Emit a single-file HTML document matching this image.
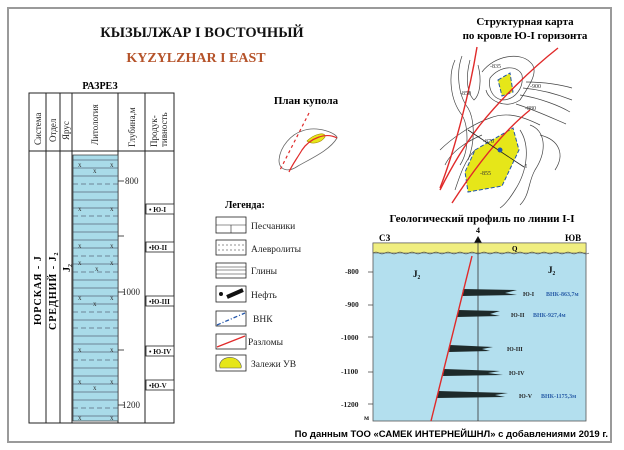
<!DOCTYPE html>
<html><head><meta charset="utf-8"><style>
body{margin:0;width:624px;height:450px;background:#fff;overflow:hidden}
svg{display:block;font-weight:bold}
text{font-family:"Liberation Serif",serif}
</style></head><body>
<svg width="624" height="450" viewBox="0 0 624 450">
<rect x="8" y="8" width="603" height="434" fill="#fff" stroke="#9a9a9a" stroke-width="2"/>
<text x="202" y="37" font-size="14.5" text-anchor="middle" fill="#111">КЫЗЫЛЖАР I  ВОСТОЧНЫЙ</text>
<text x="196" y="62" font-size="14" text-anchor="middle" fill="#b5532a">KYZYLZHAR I  EAST</text>
<text x="525" y="25" font-size="11" text-anchor="middle">Структурная карта</text>
<text x="525" y="39" font-size="11" text-anchor="middle">по кровле Ю-I горизонта</text>
<text x="100" y="89" font-size="10" text-anchor="middle">РАЗРЕЗ</text>
<!-- table -->
<g stroke="#222" stroke-width="1" fill="none">
<rect x="29" y="93" width="145" height="330"/>
<line x1="29" y1="151" x2="174" y2="151"/>
<line x1="46" y1="93" x2="46" y2="423"/><line x1="60" y1="93" x2="60" y2="423"/>
<line x1="72" y1="93" x2="72" y2="423"/><line x1="118" y1="93" x2="118" y2="423"/>
<line x1="145" y1="93" x2="145" y2="423"/>
</g>
<rect x="73" y="155" width="45" height="266" fill="#a9dbe9" stroke="#333" stroke-width="0.7"/>
<g stroke="#334" stroke-width="0.6">
<line x1="73" y1="160" x2="118" y2="160"/><line x1="73" y1="168" x2="118" y2="168"/><line x1="73" y1="176" x2="118" y2="176"/><line x1="73" y1="184" x2="118" y2="184" stroke-dasharray="5 3"/><line x1="73" y1="192" x2="118" y2="192"/><line x1="73" y1="200" x2="118" y2="200"/><line x1="73" y1="208" x2="118" y2="208"/><line x1="73" y1="216" x2="118" y2="216" stroke-dasharray="5 3"/><line x1="73" y1="224" x2="118" y2="224"/><line x1="73" y1="232" x2="118" y2="232"/><line x1="73" y1="240" x2="118" y2="240"/><line x1="73" y1="248" x2="118" y2="248"/><line x1="73" y1="256" x2="118" y2="256" stroke-dasharray="5 3"/><line x1="73" y1="264" x2="118" y2="264"/><line x1="73" y1="272" x2="118" y2="272" stroke-dasharray="5 3"/><line x1="73" y1="280" x2="118" y2="280"/><line x1="73" y1="288" x2="118" y2="288"/><line x1="73" y1="296" x2="118" y2="296"/><line x1="73" y1="304" x2="118" y2="304"/><line x1="73" y1="312" x2="118" y2="312" stroke-dasharray="5 3"/><line x1="73" y1="320" x2="118" y2="320"/><line x1="73" y1="328" x2="118" y2="328" stroke-dasharray="5 3"/><line x1="73" y1="336" x2="118" y2="336"/><line x1="73" y1="344" x2="118" y2="344"/><line x1="73" y1="352" x2="118" y2="352"/><line x1="73" y1="360" x2="118" y2="360" stroke-dasharray="5 3"/><line x1="73" y1="368" x2="118" y2="368"/><line x1="73" y1="376" x2="118" y2="376"/><line x1="73" y1="384" x2="118" y2="384"/><line x1="73" y1="392" x2="118" y2="392"/><line x1="73" y1="400" x2="118" y2="400"/><line x1="73" y1="408" x2="118" y2="408" stroke-dasharray="5 3"/><line x1="73" y1="416" x2="118" y2="416"/>
</g>
<g font-size="7" fill="#333" font-weight="normal">
<text x="78" y="167">x</text><text x="93" y="173">x</text><text x="110" y="167">x</text>
<text x="78" y="211">x</text><text x="110" y="211">x</text>
<text x="78" y="248">x</text><text x="110" y="248">x</text>
<text x="78" y="265">x</text><text x="95" y="271">x</text><text x="110" y="265">x</text>
<text x="78" y="300">x</text><text x="93" y="306">x</text><text x="110" y="300">x</text>
<text x="78" y="352">x</text><text x="110" y="352">x</text>
<text x="78" y="384">x</text><text x="93" y="390">x</text><text x="110" y="384">x</text>
<text x="78" y="420">x</text><text x="110" y="420">x</text>
</g>
<g stroke="#222" stroke-width="0.8"><line x1="118" y1="181" x2="124" y2="181"/><line x1="118" y1="236" x2="124" y2="236"/><line x1="118" y1="292" x2="124" y2="292"/><line x1="118" y1="350" x2="124" y2="350"/><line x1="118" y1="405" x2="124" y2="405"/></g>
<g font-size="9" font-weight="normal" fill="#222"><text x="125" y="184">800</text><text x="122" y="295">1000</text><text x="122" y="408">1200</text></g>
<g font-size="9" font-weight="normal" fill="#222">
<text transform="translate(41,145) rotate(-90)">Система</text>
<text transform="translate(56,142) rotate(-90)">Отдел</text>
<text transform="translate(69,140) rotate(-90)">Ярус</text>
<text transform="translate(98,145) rotate(-90)">Литология</text>
<text transform="translate(135,147) rotate(-90)">Глубина,м</text>
<text transform="translate(157,147) rotate(-90)">Продук-</text>
<text transform="translate(167,147) rotate(-90)">тивность</text>
</g>
<text transform="translate(41,325) rotate(-90)" font-size="10" letter-spacing="1">ЮРСКАЯ - J</text>
<text transform="translate(56,330) rotate(-90)" font-size="10" letter-spacing="1">СРЕДНИЙ - J₂</text>
<text transform="translate(70,272) rotate(-90)" font-size="10">J₂</text>
<g stroke="#222" stroke-width="0.8" fill="#fff">
<rect x="146" y="204" width="28" height="10"/><rect x="146" y="242" width="28" height="10"/><rect x="146" y="296" width="28" height="10"/><rect x="146" y="346" width="28" height="10"/><rect x="146" y="380" width="28" height="10"/>
</g>
<g font-size="7" fill="#111"><text x="149" y="212">• Ю-I</text><text x="149" y="250">•Ю-II</text><text x="149" y="304">•Ю-III</text><text x="149" y="354">• Ю-IV</text><text x="149" y="388">•Ю-V</text></g>
<!-- plan kupola -->
<text x="306" y="104" font-size="11" text-anchor="middle">План купола</text>
<path d="M302 131 C318 125 338 134 337 138 C330 150 312 158 298 166 C288 173 279 170 279 160 C280 146 292 134 302 131Z" fill="none" stroke="#666" stroke-width="0.8"/>
<path d="M307 141 C314 134 326 131 325 137 C321 143 312 145 307 141Z" fill="#e6e619" stroke="#a08000" stroke-width="0.6"/>
<path d="M337 138 C326 132 310 138 302 150 C296 160 292 165 289 172" fill="none" stroke="#e02a2a" stroke-width="1.2"/>
<line x1="309" y1="113" x2="280" y2="170" stroke="#e02a2a" stroke-width="1.2" stroke-dasharray="3 3"/>
<!-- legend -->
<text x="225" y="208" font-size="10">Легенда:</text>
<g stroke="#222" stroke-width="0.8" fill="#fff">
<rect x="216" y="217" width="30" height="16"/><rect x="216" y="240" width="30" height="15"/><rect x="216" y="263" width="30" height="15"/><rect x="216" y="286" width="30" height="16"/><rect x="216" y="311" width="30" height="15"/><rect x="216" y="334" width="30" height="15"/><rect x="216" y="355" width="30" height="16"/>
</g>
<g stroke="#222" stroke-width="0.6"><line x1="216" y1="225" x2="246" y2="225"/><line x1="231" y1="225" x2="231" y2="233"/>
<line x1="218" y1="245" x2="244" y2="245" stroke-dasharray="2 2"/><line x1="218" y1="250" x2="244" y2="250" stroke-dasharray="2 2"/>
<line x1="216" y1="267" x2="246" y2="267"/><line x1="216" y1="270" x2="246" y2="270"/><line x1="216" y1="274" x2="246" y2="274"/></g>
<circle cx="221" cy="294" r="2" fill="#111"/><line x1="227" y1="297" x2="243" y2="290" stroke="#111" stroke-width="4"/>
<line x1="217" y1="325" x2="245" y2="313" stroke="#2255aa" stroke-width="1.3" stroke-dasharray="4 2 1 2"/>
<line x1="217" y1="347" x2="245" y2="336" stroke="#e02a2a" stroke-width="1.3"/>
<path d="M220 368 C218 360 226 356 234 358 C240 360 242 366 241 368Z" fill="#e6e619" stroke="#555" stroke-width="0.6"/>
<g font-size="9.5" font-weight="normal" fill="#222">
<text x="251" y="229">Песчаники</text><text x="251" y="252">Алевролиты</text><text x="251" y="274">Глины</text><text x="251" y="298">Нефть</text><text x="253" y="322">ВНК</text><text x="248" y="345">Разломы</text><text x="251" y="367">Залежи УВ</text>
</g>
<!-- structure map -->
<g fill="none" stroke="#444" stroke-width="0.7">
<path d="M455 60 C448 75 450 100 462 115 C468 125 470 150 460 165"/>
<path d="M462 56 C456 72 458 95 468 108 C474 118 476 140 468 160"/>
<path d="M470 60 C466 75 466 92 474 100 C480 95 482 80 478 65"/>
<path d="M482 72 C495 55 520 52 530 62 C540 70 530 85 520 100 C505 110 488 100 486 90"/>
<path d="M490 78 C500 65 518 65 522 75 C524 88 515 100 502 100 C492 98 488 88 490 78"/>
<path d="M520 95 C540 98 560 106 570 112"/><path d="M523 88 C545 90 562 96 572 100"/><path d="M526 82 C545 82 562 85 572 88"/><path d="M516 104 C535 110 552 118 566 124"/>
<path d="M440 150 C450 140 470 125 490 118 C505 112 520 115 540 125"/>
<path d="M445 165 C452 150 470 140 482 135"/>
<path d="M455 190 C460 175 465 160 475 150"/>
<path d="M520 130 C530 145 528 170 515 190 C510 198 505 205 500 208"/>
<path d="M530 125 C545 130 548 150 535 170 C528 182 530 195 520 205"/>
<path d="M540 135 C560 140 565 155 555 170"/>
</g>
<path d="M475 150 L513 128 L519 150 L502 186 L468 192 L465 172Z" fill="#e6e619" stroke="#2255aa" stroke-width="1" stroke-dasharray="4 2"/>
<path d="M498 80 L510 73 L513 92 L502 96Z" fill="#e6e619" stroke="#2255aa" stroke-width="1" stroke-dasharray="4 2"/>
<g fill="none" stroke="#e02a2a" stroke-width="1.4">
<path d="M477 47 C470 90 455 150 440 188"/>
<path d="M558 48 C530 70 500 100 480 125 C462 148 450 170 440 190"/>
<path d="M530 110 C505 130 480 160 452 203"/>
</g>
<line x1="468" y1="130" x2="524" y2="167" stroke="#222" stroke-width="0.8"/>
<circle cx="500" cy="150" r="2.5" fill="#2255aa"/>
<g font-size="6" font-weight="normal" fill="#333"><text x="525" y="168">I</text><text x="530" y="88">-900</text><text x="525" y="110">-880</text><text x="490" y="68">-835</text><text x="460" y="95">-850</text><text x="480" y="175">-855</text><text x="483" y="143">-870</text></g>
<!-- profile -->
<text x="482" y="222" font-size="11" text-anchor="middle">Геологический профиль по линии I-I</text>
<text x="379" y="241" font-size="9">СЗ</text><text x="565" y="241" font-size="9">ЮВ</text>
<text x="478" y="233" font-size="8" text-anchor="middle">4</text>
<path d="M474 243 L478 236 L482 243Z" fill="#111"/>
<rect x="373" y="243" width="213" height="178" fill="#b3dfee" stroke="#555" stroke-width="0.8"/>
<rect x="373" y="243" width="213" height="10" fill="#f0ee80" stroke="#555" stroke-width="0.6"/>
<path d="M373 253 q3 -2 6 0 t6 0 t6 0 t6 0 t6 0 t6 0 t6 0 t6 0 t6 0 t6 0 t6 0 t6 0 t6 0 t6 0 t6 0 t6 0 t6 0 t6 0 t6 0 t6 0 t6 0 t6 0 t6 0 t6 0 t6 0 t6 0 t6 0 t6 0 t6 0 t6 0 t6 0 t6 0 t6 0 t6 0 t6 0 t6 0" fill="none" stroke="#444" stroke-width="0.6"/>
<text x="512" y="251" font-size="7">Q</text>
<line x1="478" y1="243" x2="478" y2="421" stroke="#333" stroke-width="0.8"/>
<g fill="#1e2a2a">
<path d="M463 289 L517 290 L505 293 L517 295 L462 296Z"/>
<path d="M458 310 L500 311 L490 314 L500 316 L457 317Z"/>
<path d="M450 345 L493 347 L482 349 L490 351 L449 352Z"/>
<path d="M444 369 L500 371 L488 373 L503 375 L443 376Z"/>
<path d="M438 391 L508 393 L495 395 L505 397 L437 398Z"/>
</g>
<line x1="472" y1="256" x2="431" y2="421" stroke="#e02a2a" stroke-width="1.4"/>
<g font-size="7.5" fill="#222"><text x="345" y="274">-800</text><text x="345" y="307">-900</text><text x="341" y="340">-1000</text><text x="341" y="374">-1100</text><text x="341" y="407">-1200</text><text x="364" y="420">м</text></g>
<g stroke="#333" stroke-width="0.7"><line x1="368" y1="272" x2="373" y2="272"/><line x1="368" y1="305" x2="373" y2="305"/><line x1="368" y1="337" x2="373" y2="337"/><line x1="368" y1="372" x2="373" y2="372"/><line x1="368" y1="404" x2="373" y2="404"/></g>
<text x="413" y="277" font-size="9">J₂</text><text x="548" y="273" font-size="9">J₂</text>
<g font-size="6" fill="#222"><text x="523" y="296">Ю-I</text><text x="511" y="317">Ю-II</text><text x="507" y="351">Ю-III</text><text x="509" y="375">Ю-IV</text><text x="519" y="398">Ю-V</text></g>
<g font-size="6" fill="#2a5fa8"><text x="546" y="296">ВНК-863,7м</text><text x="533" y="317">ВНК-927,4м</text><text x="541" y="398">ВНК-1175,3м</text></g>
<text x="608" y="437" font-size="9.5" text-anchor="end" style="font-family:'Liberation Sans',sans-serif">По данным ТОО «САМЕК ИНТЕРНЕЙШНЛ» с добавлениями 2019 г.</text>
</svg>
</body></html>
